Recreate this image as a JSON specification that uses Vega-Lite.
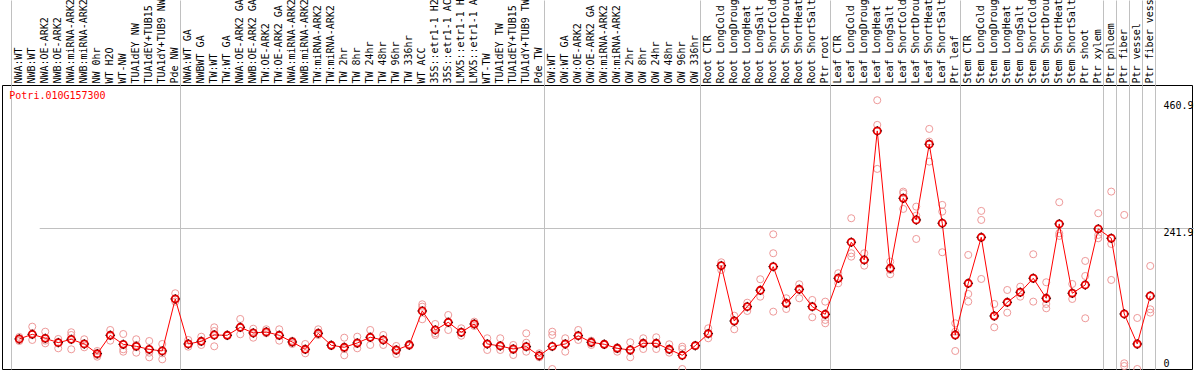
{
  "$schema": "https://vega.github.io/schema/vega-lite/v6.json",
  "width": 1190,
  "height": 284,
  "autosize": {"type": "none"},
  "padding": {"left": 2, "top": 85, "right": 2, "bottom": 1},
  "background": "white",
  "config": {"view": {"stroke": "black", "strokeWidth": 1}, "font": "DejaVu Sans Mono"},
  "datasets": {
    "expr": [
      {"sample": "NWA:WT", "mean": 51.5, "r1": 55, "r2": 49, "r3": 48},
      {"sample": "NWB:WT", "mean": 59.5, "r1": 72.6, "r2": 59.5, "r3": 49.8},
      {"sample": "NWA:OE-ARK2", "mean": 52.6, "r1": 64, "r2": 48.6, "r3": 44},
      {"sample": "NWB:OE-ARK2", "mean": 45.2, "r1": 51.5, "r2": 45.8, "r3": 35.5},
      {"sample": "NWA:miRNA-ARK2", "mean": 50.9, "r1": 63, "r2": 58.3, "r3": 33.8},
      {"sample": "NWB:miRNA-ARK2", "mean": 42.9, "r1": 51, "r2": 42.9, "r3": 37.2},
      {"sample": "NW 0hr", "mean": 26.3, "r1": 30.9, "r2": 24, "r3": 21.1},
      {"sample": "WT H2O", "mean": 57.8, "r1": 66.9, "r2": 58.3, "r3": 48.6},
      {"sample": "WT-NW", "mean": 42.3, "r1": 60, "r2": 33.8, "r3": 29.7},
      {"sample": "TUA1dEY NW", "mean": 38.9, "r1": 51, "r2": 41.2, "r3": 28},
      {"sample": "TUA1dEY+TUB15 NW", "mean": 33.7, "r1": 48, "r2": 28, "r3": 20},
      {"sample": "TUA1dY+TUB9 NW", "mean": 30.9, "r1": 42.9, "r2": 26.9, "r3": 16.6},
      {"sample": "Pde NW", "mean": 120.1, "r1": 129.9, "r2": 120.1, "r3": 115.5},
      {"sample": "NWA:WT GA", "mean": 42.9, "r1": 49.8, "r2": 42.9, "r3": 38.3},
      {"sample": "NWBWT GA", "mean": 47.5, "r1": 55.4, "r2": 48, "r3": 41.2},
      {"sample": "TW:WT", "mean": 58.3, "r1": 71.5, "r2": 65.2, "r3": 38.9},
      {"sample": "TW:WT GA", "mean": 57.8, "r1": 57, "r2": 58, "r3": 59},
      {"sample": "NWA:OE-ARK2 GA", "mean": 71.5, "r1": 85.8, "r2": 71.5, "r3": 59.5},
      {"sample": "NWB:OE-ARK2 GA", "mean": 61.8, "r1": 69.1, "r2": 61.2, "r3": 53.7},
      {"sample": "TW:OE-ARK2", "mean": 63.5, "r1": 68.1, "r2": 63.5, "r3": 61.2},
      {"sample": "TW:OE-ARK2 GA", "mean": 57.8, "r1": 68.1, "r2": 57.8, "r3": 48.6},
      {"sample": "NWA:miRNA-ARK2 GA", "mean": 46.3, "r1": 48.6, "r2": 46.3, "r3": 42.9},
      {"sample": "NWB:miRNA-ARK2 GA", "mean": 33.8, "r1": 42.9, "r2": 33.8, "r3": 26.9},
      {"sample": "TW:miRNA-ARK2", "mean": 61.2, "r1": 68.1, "r2": 62.3, "r3": 58.3},
      {"sample": "TW:miRNA-ARK2 GA", "mean": 40.7, "r1": 41.7, "r2": 40.7, "r3": 39.5},
      {"sample": "TW 2hr", "mean": 37.2, "r1": 53.7, "r2": 34.3, "r3": 23.5},
      {"sample": "TW 8hr", "mean": 44.6, "r1": 55.4, "r2": 42.9, "r3": 35.5},
      {"sample": "TW 24hr", "mean": 54.4, "r1": 66.9, "r2": 54.4, "r3": 41.2},
      {"sample": "TW 48hr", "mean": 49.8, "r1": 58.3, "r2": 49.8, "r3": 41.2},
      {"sample": "TW 96hr", "mean": 32.6, "r1": 39.5, "r2": 31.4, "r3": 25.7},
      {"sample": "TW 336hr", "mean": 41.2, "r1": 42.9, "r2": 41.2, "r3": 39.5},
      {"sample": "WT ACC", "mean": 99.5, "r1": 111, "r2": 106.9, "r3": 85.3},
      {"sample": "35S::etr1-1 H2O", "mean": 66.9, "r1": 77.2, "r2": 61.2, "r3": 58.3},
      {"sample": "35S::etr1-1 ACC", "mean": 80.1, "r1": 92.6, "r2": 80.1, "r3": 66.9},
      {"sample": "LMX5::etr1-1 H2O", "mean": 63, "r1": 69.8, "r2": 62.3, "r3": 57.1},
      {"sample": "LMX5::etr1-1 ACC", "mean": 77.2, "r1": 81.2, "r2": 77.2, "r3": 73.8},
      {"sample": "WT-TW", "mean": 42.9, "r1": 52.7, "r2": 42.9, "r3": 32.6},
      {"sample": "TUA1dEY TW", "mean": 39.5, "r1": 52.7, "r2": 41.2, "r3": 32.6},
      {"sample": "TUA1dEY+TUB15 TW", "mean": 34.3, "r1": 41.2, "r2": 32.6, "r3": 24},
      {"sample": "TUA1dY+TUB9 TW", "mean": 38.3, "r1": 61.2, "r2": 45.1, "r3": 29.7},
      {"sample": "Pde TW", "mean": 22.8, "r1": 26.9, "r2": 22.8, "r3": 20.1},
      {"sample": "OW:WT", "mean": 38.9, "r1": 64, "r2": 58.3, "r3": 0},
      {"sample": "OW:WT GA", "mean": 42.9, "r1": 52.7, "r2": 42.9, "r3": 29.7},
      {"sample": "OW:OE-ARK2", "mean": 57.1, "r1": 66.9, "r2": 57.1, "r3": 49.8},
      {"sample": "OW:OE-ARK2 GA", "mean": 45.8, "r1": 48.6, "r2": 44.1, "r3": 41.2},
      {"sample": "OW:miRNA-ARK2", "mean": 42.4, "r1": 43.4, "r2": 42.4, "r3": 41.2},
      {"sample": "OW:miRNA-ARK2 GA", "mean": 35.5, "r1": 37.2, "r2": 34.3, "r3": 29.7},
      {"sample": "OW 2hr", "mean": 32.6, "r1": 45.8, "r2": 32.6, "r3": 20.1},
      {"sample": "OW 8hr", "mean": 44.1, "r1": 52.7, "r2": 44.1, "r3": 34.3},
      {"sample": "OW 24hr", "mean": 44.1, "r1": 54.4, "r2": 44.1, "r3": 34.3},
      {"sample": "OW 48hr", "mean": 33.8, "r1": 42.4, "r2": 34.3, "r3": 28},
      {"sample": "OW 96hr", "mean": 23.5, "r1": 38.3, "r2": 34.3, "r3": 0},
      {"sample": "OW 336hr", "mean": 40, "r1": 41.2, "r2": 40, "r3": 38.9},
      {"sample": "Root CTR", "mean": 60.6, "r1": 69.8, "r2": 61.2, "r3": 52.7},
      {"sample": "Root LongCold", "mean": 177.2, "r1": 183, "r2": 177.2, "r3": 169.8},
      {"sample": "Root LongDrought", "mean": 82.3, "r1": 91.4, "r2": 82.3, "r3": 68.1},
      {"sample": "Root LongHeat", "mean": 106.9, "r1": 113.7, "r2": 106.9, "r3": 99.5},
      {"sample": "Root LongSalt", "mean": 135, "r1": 153.9, "r2": 134.3, "r3": 124},
      {"sample": "Root ShortCold", "mean": 175.5, "r1": 231, "r2": 198.5, "r3": 98.3},
      {"sample": "Root ShortDrought", "mean": 112.7, "r1": 121.3, "r2": 112.7, "r3": 102.9},
      {"sample": "Root ShortHeat", "mean": 136.7, "r1": 145.3, "r2": 136.7, "r3": 121.3},
      {"sample": "Root ShortSalt", "mean": 106.9, "r1": 118.4, "r2": 106.9, "r3": 88.7},
      {"sample": "Ptr root", "mean": 93.8, "r1": 115.5, "r2": 84.1, "r3": 78.4},
      {"sample": "Leaf CTR", "mean": 155.6, "r1": 164.2, "r2": 155.6, "r3": 147},
      {"sample": "Leaf LongCold", "mean": 217.4, "r1": 258.5, "r2": 198.5, "r3": 192.7},
      {"sample": "Leaf LongDrought", "mean": 187, "r1": 198.5, "r2": 187, "r3": 177.2},
      {"sample": "Leaf LongHeat", "mean": 408.3, "r1": 460.9, "r2": 418.6, "r3": 343.1},
      {"sample": "Leaf LongSalt", "mean": 172.7, "r1": 184.1, "r2": 169.8, "r3": 162.5},
      {"sample": "Leaf ShortCold", "mean": 292.8, "r1": 304.2, "r2": 301.4, "r3": 274.5},
      {"sample": "Leaf ShortDrought", "mean": 255.6, "r1": 278.4, "r2": 263, "r3": 223},
      {"sample": "Leaf ShortHeat", "mean": 385.5, "r1": 411.7, "r2": 390, "r3": 355.6},
      {"sample": "Leaf ShortSalt", "mean": 250, "r1": 281.4, "r2": 269.9, "r3": 200.2},
      {"sample": "Ptr leaf", "mean": 58.3, "r1": 78.4, "r2": 64, "r3": 30.9},
      {"sample": "Stem CTR", "mean": 147, "r1": 195.6, "r2": 128.7, "r3": 115.5},
      {"sample": "Stem LongCold", "mean": 225.9, "r1": 271.1, "r2": 255.6, "r3": 154.4},
      {"sample": "Stem LongDrought", "mean": 90.9, "r1": 111.5, "r2": 90.9, "r3": 71.5},
      {"sample": "Stem LongHeat", "mean": 114.4, "r1": 135.5, "r2": 114.4, "r3": 96.6},
      {"sample": "Stem LongSalt", "mean": 131.6, "r1": 141.2, "r2": 131.6, "r3": 124},
      {"sample": "Stem ShortCold", "mean": 155.6, "r1": 196.8, "r2": 155.6, "r3": 115.5},
      {"sample": "Stem ShortDrought", "mean": 121.3, "r1": 148.7, "r2": 111.5, "r3": 104.1},
      {"sample": "Stem ShortHeat", "mean": 248.8, "r1": 286, "r2": 232.8, "r3": 228.2},
      {"sample": "Stem ShortSalt", "mean": 129.9, "r1": 145.8, "r2": 129.9, "r3": 120.1},
      {"sample": "Ptr shoot", "mean": 144.1, "r1": 185.3, "r2": 159.5, "r3": 87},
      {"sample": "Ptr xylem", "mean": 240.2, "r1": 267.1, "r2": 229.9, "r3": 224.2},
      {"sample": "Ptr phloem", "mean": 224.2, "r1": 304.2, "r2": 214.4, "r3": 152.7},
      {"sample": "Ptr fiber", "mean": 94.4, "r1": 264.2, "r2": 9.8, "r3": 5.1},
      {"sample": "Ptr vessel", "mean": 42.9, "r1": 87.5, "r2": 0, "r3": 41.2},
      {"sample": "Ptr fiber vessel", "mean": 125.2, "r1": 176.7, "r2": 102.4, "r3": 96.6}
    ]
  },
  "data": {"name": "expr"},
  "encoding": {
    "x": {
      "field": "sample",
      "type": "nominal",
      "sort": null,
      "bandPosition": 0.65,
      "scale": {
        "type": "band",
        "paddingInner": 0,
        "paddingOuter": 0,
        "range": [-4.2, 1152.8],
        "domain": [" ", "NWA:WT", "NWB:WT", "NWA:OE-ARK2", "NWB:OE-ARK2", "NWA:miRNA-ARK2", "NWB:miRNA-ARK2", "NW 0hr", "WT H2O", "WT-NW", "TUA1dEY NW", "TUA1dEY+TUB15 NW", "TUA1dY+TUB9 NW", "Pde NW", "NWA:WT GA", "NWBWT GA", "TW:WT", "TW:WT GA", "NWA:OE-ARK2 GA", "NWB:OE-ARK2 GA", "TW:OE-ARK2", "TW:OE-ARK2 GA", "NWA:miRNA-ARK2 GA", "NWB:miRNA-ARK2 GA", "TW:miRNA-ARK2", "TW:miRNA-ARK2 GA", "TW 2hr", "TW 8hr", "TW 24hr", "TW 48hr", "TW 96hr", "TW 336hr", "WT ACC", "35S::etr1-1 H2O", "35S::etr1-1 ACC", "LMX5::etr1-1 H2O", "LMX5::etr1-1 ACC", "WT-TW", "TUA1dEY TW", "TUA1dEY+TUB15 TW", "TUA1dY+TUB9 TW", "Pde TW", "OW:WT", "OW:WT GA", "OW:OE-ARK2", "OW:OE-ARK2 GA", "OW:miRNA-ARK2", "OW:miRNA-ARK2 GA", "OW 2hr", "OW 8hr", "OW 24hr", "OW 48hr", "OW 96hr", "OW 336hr", "Root CTR", "Root LongCold", "Root LongDrought", "Root LongHeat", "Root LongSalt", "Root ShortCold", "Root ShortDrought", "Root ShortHeat", "Root ShortSalt", "Ptr root", "Leaf CTR", "Leaf LongCold", "Leaf LongDrought", "Leaf LongHeat", "Leaf LongSalt", "Leaf ShortCold", "Leaf ShortDrought", "Leaf ShortHeat", "Leaf ShortSalt", "Ptr leaf", "Stem CTR", "Stem LongCold", "Stem LongDrought", "Stem LongHeat", "Stem LongSalt", "Stem ShortCold", "Stem ShortDrought", "Stem ShortHeat", "Stem ShortSalt", "Ptr shoot", "Ptr xylem", "Ptr phloem", "Ptr fiber", "Ptr vessel", "Ptr fiber vessel"]
      },
      "axis": {
        "orient": "top",
        "title": null,
        "domain": false,
        "tickBand": "extent",
        "tickSize": 85,
        "tickWidth": 1,
        "tickColor": "#c0c0c0",
        "tickOpacity": {"condition": {"test": "indexof([' ','Pde NW','Pde TW','OW 336hr','Ptr root','Ptr leaf','Ptr xylem','Ptr phloem','Ptr fiber','Ptr vessel','Ptr fiber vessel'], datum.value) >= 0", "value": 1}, "value": 0},
        "grid": true,
        "gridColor": "#c0c0c0",
        "gridOpacity": {"condition": {"test": "indexof([' ','Pde NW','Pde TW','OW 336hr','Ptr root','Ptr leaf','Ptr xylem','Ptr phloem','Ptr fiber','Ptr vessel','Ptr fiber vessel'], datum.value) >= 0", "value": 1}, "value": 0},
        "labelAngle": -90,
        "labelAlign": "left",
        "labelBaseline": "middle",
        "labelPadding": -83,
        "labelOffset": 1.5,
        "labelFont": "DejaVu Sans Mono",
        "labelFontSize": 10,
        "labelColor": "black",
        "labelExpr": "substring(datum.label, 0, 14)",
        "labelOverlap": false,
        "labelBound": false,
        "labelLimit": 0
      }
    }
  },
  "layer": [
    {
      "transform": [{"fold": ["r1", "r2", "r3"], "as": ["rep", "value"]}],
      "mark": {"type": "point", "shape": "circle", "filled": false, "size": 50, "stroke": "#ee9999", "strokeWidth": 1, "opacity": 1},
      "encoding": {
        "y": {
          "field": "value",
          "type": "quantitative",
          "scale": {"domain": [0, 487], "nice": false, "zero": true},
          "axis": {
            "orient": "right",
            "title": null,
            "domain": false,
            "ticks": false,
            "values": [0, 241.9, 460.9],
            "labelExpr": "'' + datum.value",
            "labelAlign": "left",
            "labelPadding": -29,
            "labelBaseline": {"condition": {"test": "datum.value == 0", "value": "bottom"}, "value": "top"},
            "labelOffset": {"condition": {"test": "datum.value == 0", "value": -1}, "value": 0},
            "labelFont": "DejaVu Sans Mono",
            "labelFontSize": 10,
            "labelColor": "black",
            "labelFlush": false,
            "labelBound": false,
            "labelOverlap": false,
            "grid": true,
            "gridColor": "#c0c0c0",
            "gridOpacity": {"condition": {"test": "datum.value > 200 && datum.value < 300", "value": 1}, "value": 0}
          }
        }
      }
    },
    {
      "mark": {"type": "line", "color": "#ff0000", "strokeWidth": 1},
      "encoding": {"y": {"field": "mean", "type": "quantitative"}}
    },
    {
      "mark": {"type": "point", "shape": "circle", "filled": false, "size": 50, "stroke": "#e00000", "strokeWidth": 1.8, "opacity": 1},
      "encoding": {"y": {"field": "mean", "type": "quantitative"}}
    },
    {
      "mark": {"type": "point", "shape": "M0,-1.2V-0.95M0,0.95V1.2M-1.2,0H-0.95M0.95,0H1.2", "filled": false, "size": 64, "stroke": "#000000", "strokeWidth": 1, "opacity": 1},
      "encoding": {"y": {"field": "mean", "type": "quantitative"}}
    },
    {
      "data": {"values": [{"gene": "Potri.010G157300"}]},
      "mark": {"type": "text", "align": "left", "baseline": "top", "color": "#ff0000", "font": "DejaVu Sans Mono", "fontSize": 10, "dx": -1.5},
      "encoding": {
        "x": {"datum": "NWA:WT", "bandPosition": 0},
        "y": {"datum": 477},
        "text": {"field": "gene"}
      }
    }
  ]
}
